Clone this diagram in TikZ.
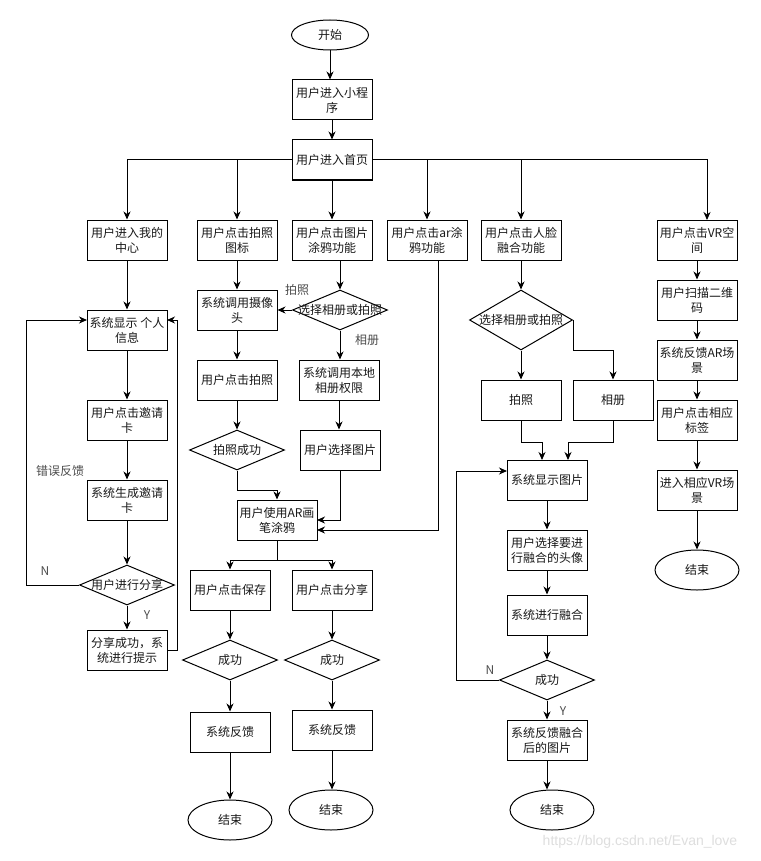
\documentclass[tikz,border=0pt]{standalone}
\usepackage{fontspec}
\setmainfont{Noto Sans CJK SC}
\newfontfamily\wmfont{Liberation Sans}
\usetikzlibrary{shapes.geometric,arrows.meta}
\begin{document}
\begin{tikzpicture}[x=1pt,y=-1pt,
  every node/.style={font=\fontsize{12}{15}\selectfont, text=black!90},
  box/.style={draw, line width=1pt, minimum width=80pt, minimum height=40pt, inner sep=0pt, align=center},
  dia/.style={draw, diamond, line width=1pt, inner sep=0pt, minimum width=95pt, minimum height=40pt},
  term/.style={draw, ellipse, line width=1pt, inner sep=0pt, minimum width=84pt, minimum height=40pt},
  arr/.style={line width=1pt, -{Stealth[length=8pt,width=7pt,inset=2.5pt]}},
  lab/.style={text=black!70, inner sep=0pt}
]
\fill[white] (0,0) rectangle (760,861);
\useasboundingbox (0,0) rectangle (760,861);

% top
\node[term, minimum width=77pt, minimum height=30pt] (start) at (330,35) {开始};
\node[box] (n1) at (332,100) {用户进入小程\\序};
\node[box] (home) at (332,160) {用户进入首页};

% row of functions
\node[box] (a1) at (127,240) {用户进入我的\\中心};
\node[box] (a2) at (237,240) {用户点击拍照\\图标};
\node[box] (a3) at (332,240) {用户点击图片\\涂鸦功能};
\node[box] (a4) at (427,240) {用户点击ar涂\\鸦功能};
\node[box] (a5) at (521,240) {用户点击人脸\\融合功能};
\node[box] (a6) at (697,240) {用户点击VR空\\间};
\coordinate (a6in) at (707,220);

\draw[arr] (start) -- (start.south |- n1.north);
\draw[arr] (n1) -- (home);
\draw[arr] (home.west) -| (a1);
\draw[arr] (home.west) -| (a2);
\draw[arr] (home) -- (a3);
\draw[arr] (home.east) -| (a4);
\draw[arr] (home.east) -| (a5);
\draw[arr] (home.east) -| (a6in);

% left column
\node[box] (b1) at (127,330) {系统显示 个人\\信息};
\node[box] (b2) at (127,420) {用户点击邀请\\卡};
\node[box] (b3) at (127,500) {系统生成邀请\\卡};
\node[dia] (b4) at (127,585) {\makebox[0pt]{用户进行分享}};
\node[box] (b5) at (127,650) {分享成功，系\\统进行提示};
\coordinate (b1l) at (87,320);
\coordinate (b1r) at (167,320);
\draw[arr] (a1) -- (b1);
\draw[arr] (b1) -- (b2);
\draw[arr] (b2) -- (b3);
\draw[arr] (b3) -- (b4);
\draw[arr] (b4) -- (b5);
\draw[arr] (b4.west) -- ++(-53,0) |- (b1l);
\draw[arr] (b5.east) -- ++(10,0) |- (b1r);
\node[lab] (lN1) at (45,571) {N};
\node[lab] (lY1) at (147,615) {Y};
\node[lab] (lerr) at (60,471) {错误反馈};

% photo column
\node[box] (c1) at (237,310) {系统调用摄像\\头};
\node[box] (c2) at (237,380) {用户点击拍照};
\node[dia] (c3) at (237,450) {\makebox[0pt]{拍照成功}};
\node[box] (ar) at (277,520) {用户使用AR画\\笔涂鸦};
\coordinate (arin1) at (317,520);
\coordinate (arin2) at (317,530);
\draw[arr] (a2) -- (c1);
\draw[arr] (c1) -- (c2);
\draw[arr] (c2) -- (c3);
\draw[arr] (c3.south) -- ++(0,20) -| (ar.north);

% doodle column
\node[dia] (d1) at (340,310) {\makebox[0pt]{选择相册或拍照}};
\node[box] (d2) at (339,380) {系统调用本地\\相册权限};
\node[box] (d3) at (340,450) {用户选择图片};
\draw[arr] (a3.south -| d1.north) -- (d1.north);
\draw[arr] (d1.west) -- (c1.east);
\draw[arr] (d1.south) -- (d1.south |- d2.north);
\draw[arr] (d2) -- (d2.south |- d3.north);
\draw[arr] (d3.south) |- (arin1);
\node[lab] (lpz) at (297,290) {拍照};
\node[lab] (lxc) at (367,340) {相册};

% ar column
\coordinate (a4out) at (438,260);
\draw[arr] (a4out) |- (arin2);

% save / share
\node[box] (e1) at (230,590) {用户点击保存};
\node[dia] (e2) at (230,660) {\makebox[0pt]{成功}};
\node[box] (e3) at (230,732) {系统反馈};
\node[term] (e4) at (230,820) {结束};
\node[box] (f1) at (332,590) {用户点击分享};
\node[dia] (f2) at (332,660) {\makebox[0pt]{成功}};
\node[box] (f3) at (332,730) {系统反馈};
\node[term] (f4) at (331,810) {结束};
\draw[arr] (ar.south) -- ++(0,20) -| (e1.north);
\draw[arr] (ar.south) -- ++(0,20) -| (f1.north);
\draw[arr] (e1) -- (e2);
\draw[arr] (e2) -- (e3);
\draw[arr] (e3) -- (e4);
\draw[arr] (f1) -- (f2);
\draw[arr] (f2) -- (f3);
\draw[arr] (f3) -- (f3.south |- f4.north);

% face column
\node[dia, minimum width=103pt, minimum height=60pt] (g1) at (521,320) {\makebox[0pt]{选择相册或拍照}};
\node[box] (g2) at (521,400) {拍照};
\node[box] (g3) at (613,400) {相册};
\node[box] (g4) at (547,480) {系统显示图片};
\node[box] (g5) at (547,550) {用户选择要进\\行融合的头像};
\node[box] (g6) at (547,615) {系统进行融合};
\node[dia] (g7) at (547,680) {\makebox[0pt]{成功}};
\node[box] (g8) at (547,740) {系统反馈融合\\后的图片};
\node[term] (g9) at (552,810) {结束};
\coordinate (g4a) at (542,460);
\coordinate (g4b) at (568,460);
\coordinate (g4l) at (507,471);
\draw[arr] (a5) -- (g1);
\draw[arr] (g1) -- (g2);
\draw[arr] (g1.east) -- ++(0,30) -| (g3.north);
\draw[arr] (g2.south) -- ++(0,22) -| (g4a);
\draw[arr] (g3.south) -- ++(0,22) -| (g4b);
\draw[arr] (g4) -- (g5);
\draw[arr] (g5) -- (g6);
\draw[arr] (g6) -- (g7);
\draw[arr] (g7) -- (g8);
\draw[arr] (g8.south) -- (g8.south |- g9.north);
\draw[arr] (g7.west) -- ++(-43,0) |- (g4l);
\node[lab] (lN2) at (490,670) {N};
\node[lab] (lY2) at (563,711) {Y};

% VR column
\node[box] (h1) at (697,300) {用户扫描二维\\码};
\node[box] (h2) at (697,360) {系统反馈AR场\\景};
\node[box] (h3) at (697,420) {用户点击相应\\标签};
\node[box] (h4) at (697,490) {进入相应VR场\\景};
\node[term] (h5) at (697,570) {结束};
\draw[arr] (a6) -- (h1);
\draw[arr] (h1) -- (h2);
\draw[arr] (h2) -- (h3);
\draw[arr] (h3) -- (h4);
\draw[arr] (h4) -- (h5);

% watermark
\node[text=black!13, font=\wmfont\fontsize{14}{16}\selectfont] (wm) at (640,842) {https://blog.csdn.net/Evan\_love};
\end{tikzpicture}
\end{document}
